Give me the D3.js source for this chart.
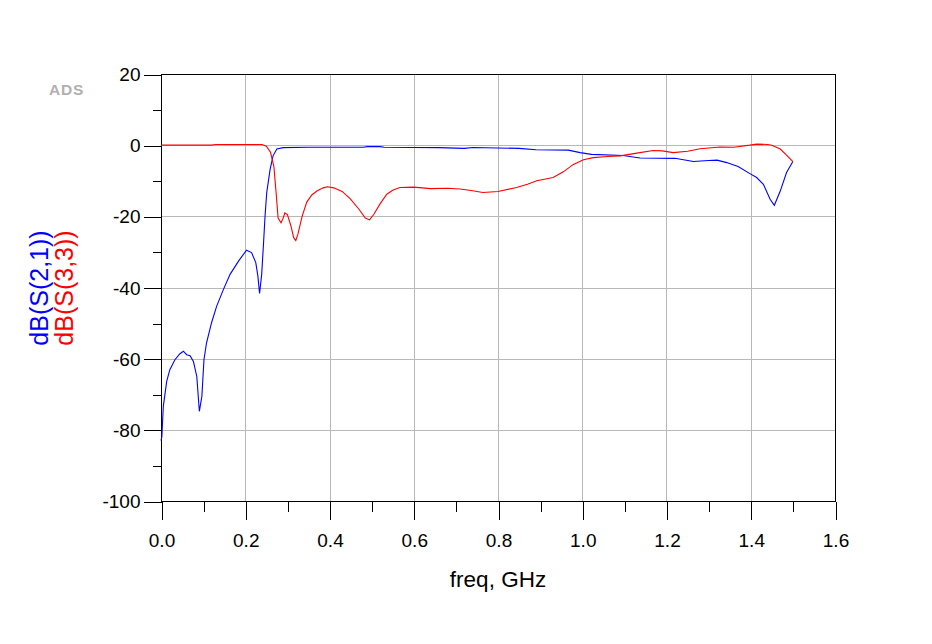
<!DOCTYPE html>
<html>
<head>
<meta charset="utf-8">
<script src="https://cdn.jsdelivr.net/npm/d3@7"></script>
<style>
  html, body { margin: 0; padding: 0; background: #fff; }
  svg { display: block; }
  text { font-family: "Liberation Sans", Arial, sans-serif; }
</style>
</head>
<body>
<svg id="chart" width="932" height="644"></svg>
<script>
// ---- Data ----
const xTickLabels = ["0.0","0.2","0.4","0.6","0.8","1.0","1.2","1.4","1.6"];
const yTickLabels = ["20","0","-20","-40","-60","-80","-100"];
const seriesNames = ["dB(S(2,1))", "dB(S(3,3))"];

const s21Freq = [0,0.002,0.0055,0.0135,0.021,0.033,0.045,0.053,0.061,0.069,0.077,0.085,0.091,0.097,0.102,0.108,0.12,0.132,0.148,0.164,0.184,0.203,0.215,0.225,0.23,0.234,0.239,0.243,0.247,0.251,0.259,0.266,0.275,0.29,0.35,0.48,0.49,0.52,0.53,0.66,0.72,0.74,0.85,0.89,0.967,0.995,1.022,1.097,1.137,1.22,1.264,1.3,1.32,1.343,1.37,1.398,1.414,1.43,1.446,1.456,1.47,1.485,1.5];
const s21dB = [-83,-82,-73.4,-66.4,-63.1,-60.3,-58.6,-57.9,-58.9,-59.2,-60.8,-65,-74.8,-70.6,-60.3,-55.6,-49.9,-45.3,-40.6,-36.3,-32.6,-29.5,-30.2,-33,-36.8,-41.7,-36.3,-28.4,-19.9,-13.3,-6.8,-3,-1.1,-0.7,-0.6,-0.6,-0.4,-0.4,-0.6,-0.7,-0.9,-0.65,-0.9,-1.3,-1.4,-2.1,-2.6,-2.9,-3.6,-3.7,-4.6,-4.3,-4.2,-4.9,-6,-8,-9.1,-11,-15.2,-16.9,-12.9,-7.7,-4.6];

const s33Freq = [0,0.12,0.13,0.2,0.24,0.25,0.26,0.268,0.273,0.278,0.285,0.29,0.294,0.3,0.308,0.315,0.32,0.325,0.335,0.346,0.358,0.37,0.385,0.395,0.41,0.43,0.449,0.47,0.485,0.495,0.505,0.52,0.536,0.55,0.567,0.6,0.64,0.68,0.71,0.74,0.764,0.8,0.844,0.87,0.892,0.931,0.955,0.979,1.003,1.026,1.06,1.09,1.137,1.168,1.19,1.216,1.25,1.28,1.327,1.36,1.398,1.414,1.44,1.45,1.47,1.485,1.5];
const s33dB = [0,0,0.2,0.2,0.2,-0.3,-2,-6,-13,-20.5,-21.8,-20.5,-19,-19.5,-22.5,-26,-26.8,-25,-20,-16,-14,-12.9,-12,-11.7,-12,-13,-15,-18,-20.5,-21,-19.5,-16.5,-13.8,-12.7,-11.9,-11.8,-12.2,-12.1,-12.3,-12.8,-13.3,-13,-11.9,-11,-10,-9.1,-7.5,-5.4,-4.1,-3.5,-3.2,-3,-2.1,-1.5,-1.6,-2.1,-1.7,-1,-0.5,-0.6,0,0.3,0.2,0,-1.1,-2.8,-4.6];

// ---- Layout ----
const L = 161, R = 835, T = 74, B = 501;
const svg = d3.select("#chart");
const x = d3.scaleLinear().domain([0, 1.6]).range([L, R]);
const y = d3.scaleLinear().domain([-100, 20]).range([B, T]);

const majorX = xTickLabels.map(Number);
const majorY = yTickLabels.map(Number);
const minorX = d3.range(0.1, 1.6, 0.2);
const minorY = d3.range(-90, 20, 20);

// grid
const grid = svg.append("g").attr("shape-rendering", "crispEdges").attr("stroke", "#b8b8b8").attr("stroke-width", 1);
grid.selectAll("line.gx").data(majorX.slice(1, -1)).join("line")
  .attr("x1", d => Math.round(x(d)) + 0.5).attr("x2", d => Math.round(x(d)) + 0.5)
  .attr("y1", T).attr("y2", B);
grid.selectAll("line.gy").data(majorY.slice(1, -1)).join("line")
  .attr("y1", d => Math.round(y(d)) + 0.5).attr("y2", d => Math.round(y(d)) + 0.5)
  .attr("x1", L).attr("x2", R);

// axes
const xAxis = d3.axisBottom(x).tickValues(majorX).tickSize(18).tickPadding(14)
  .tickFormat((d, i) => xTickLabels[i]);
const xAxisMinor = d3.axisBottom(x).tickValues(minorX).tickSize(10).tickFormat("");
const yAxis = d3.axisLeft(y).tickValues(majorY).tickSize(18).tickPadding(3)
  .tickFormat((d, i) => yTickLabels[i]);
const yAxisMinor = d3.axisLeft(y).tickValues(minorY).tickSize(9).tickFormat("");

function styleAxis(g) {
  g.select(".domain").remove();
  g.selectAll("line").attr("stroke", "#000").attr("shape-rendering", "crispEdges");
  g.selectAll("text").attr("fill", "#000").style("font-size", "19px")
    .style("font-family", "'Liberation Sans', Arial, sans-serif");
}
svg.append("g").attr("transform", `translate(0.5,${B + 0.5})`).call(xAxis).call(styleAxis);
svg.append("g").attr("transform", `translate(0.5,${B + 0.5})`).call(xAxisMinor).call(styleAxis);
svg.append("g").attr("transform", `translate(${L + 0.5},0.5)`).call(yAxis).call(styleAxis);
svg.append("g").attr("transform", `translate(${L + 0.5},0.5)`).call(yAxisMinor).call(styleAxis);

// frame
svg.append("rect").attr("x", L + 0.5).attr("y", T + 0.5).attr("width", R - L).attr("height", B - T)
  .attr("fill", "none").attr("stroke", "#000").attr("stroke-width", 1).attr("shape-rendering", "crispEdges");

// curves
const line = d3.line().x(d => x(d[0])).y(d => y(d[1]));
const s21 = s21Freq.map((f, i) => [f, s21dB[i]]);
const s33 = s33Freq.map((f, i) => [f, s33dB[i]]);
svg.append("path").datum(s21).attr("d", line).attr("fill", "none").attr("stroke", "#0000ff").attr("stroke-width", 1.1);
svg.append("path").datum(s33).attr("d", line).attr("fill", "none").attr("stroke", "#ff0000").attr("stroke-width", 1.1);

// axis title
svg.append("text").attr("x", (L + R) / 2).attr("y", 587).attr("text-anchor", "middle")
  .style("font-size", "22.5px").attr("fill", "#000").text("freq, GHz");

// legend (rotated y labels)
const legColors = ["#0000ff", "#ff0000"];
const legX = [48, 73];
seriesNames.forEach((n, i) => {
  svg.append("text")
    .attr("transform", `translate(${legX[i]},288) rotate(-90)`)
    .attr("text-anchor", "middle")
    .style("font-size", "25px").attr("fill", legColors[i]).text(n);
});

// ADS watermark
svg.append("text").attr("x", 49).attr("y", 95).style("font-size", "15.5px")
  .style("font-weight", "bold").style("letter-spacing", "0.8px")
  .attr("fill", "#b0b0b0").text("ADS");
</script>
</body>
</html>
